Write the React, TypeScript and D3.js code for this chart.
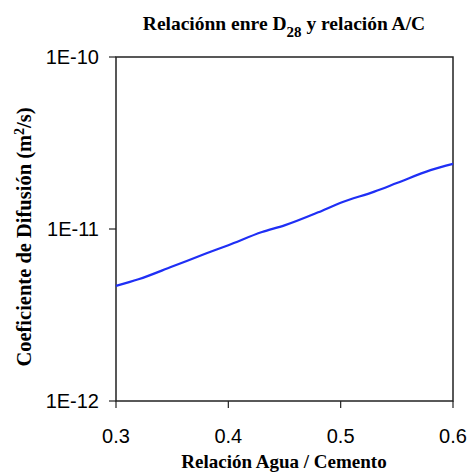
import React from 'react';
import * as d3 from 'd3';

// relación A/C vs coeficiente de difusión
const ratios = [0.3, 0.32, 0.35, 0.38, 0.4, 0.43, 0.45, 0.48, 0.5, 0.53, 0.55, 0.58, 0.6];
const difusion = [4.67e-12, 5.1e-12, 6.05e-12, 7.2e-12, 8.05e-12, 9.6e-12, 1.05e-11, 1.25e-11, 1.42e-11, 1.65e-11, 1.85e-11, 2.2e-11, 2.39e-11];
const xTicks = [0.3, 0.4, 0.5, 0.6];
const yTicks = [1e-12, 1e-11, 1e-10];
const yTickLabels = ['1E-12', '1E-11', '1E-10'];

const W = 469, H = 472;
const margin = { top: 57, right: 16, bottom: 71, left: 116 };

export default function App() {
  const x = d3.scaleLinear().domain([0.3, 0.6]).range([margin.left, W - margin.right]);
  const y = d3.scaleLog().domain([1e-12, 1e-10]).range([H - margin.bottom, margin.top]);

  const pts = ratios.map((r, i) => [r, difusion[i]] as [number, number]);
  const line = d3.line<[number, number]>()
    .x(d => x(d[0]))
    .y(d => y(d[1]))
    .curve(d3.curveMonotoneX);

  const bottom = H - margin.bottom;
  const sans = 'Arial, "Liberation Sans", sans-serif';
  const serif = '"Times New Roman", "Liberation Serif", serif';

  return (
    <svg width={W} height={H} style={{ position: 'absolute', left: 0, top: 0, background: '#fff' }}>
      <text x={284} y={30} textAnchor="middle" fontFamily={serif} fontWeight="bold" fontSize={19.5}>
        Relaciónn enre D<tspan dy={7} fontSize={15}>28</tspan><tspan dy={-7}> y relación A/C</tspan>
      </text>

      <rect x={margin.left} y={margin.top} width={W - margin.left - margin.right} height={bottom - margin.top}
        fill="none" stroke="#222" strokeWidth={1.5} />

      {yTicks.map((t, i) => (
        <g key={t}>
          <line x1={margin.left - 7} x2={margin.left} y1={y(t)} y2={y(t)} stroke="#222" strokeWidth={1.2} />
          <text x={margin.left - 17} y={y(t)} dy="0.35em" textAnchor="end" fontFamily={sans} fontSize={20}>
            {yTickLabels[i]}
          </text>
        </g>
      ))}

      {xTicks.map(t => (
        <g key={t}>
          <line x1={x(t)} x2={x(t)} y1={bottom} y2={bottom + 7} stroke="#222" strokeWidth={1.2} />
          <text x={x(t)} y={bottom + 42} textAnchor="middle" fontFamily={sans} fontSize={20}>
            {d3.format('.1f')(t)}
          </text>
        </g>
      ))}

      <path d={line(pts) || ''} fill="none" stroke="#1f2ff5" strokeWidth={2.2} />

      <text x={284} y={468} textAnchor="middle" fontFamily={serif} fontWeight="bold" fontSize={19}>
        Relación Agua / Cemento
      </text>

      <text transform={`translate(31,237) rotate(-90)`} textAnchor="middle"
        fontFamily={serif} fontWeight="bold" fontSize={20.5}>
        Coeficiente de Difusión (m<tspan dy={-7} fontSize={14}>2</tspan><tspan dy={7}>/s)</tspan>
      </text>
    </svg>
  );
}
